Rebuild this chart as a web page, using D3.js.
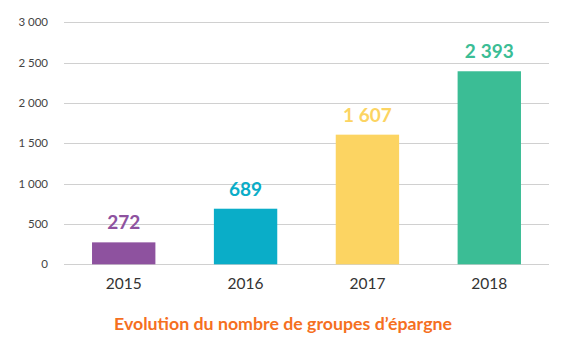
<!DOCTYPE html>
<html><head><meta charset="utf-8">
<script src="https://cdn.jsdelivr.net/npm/d3@7"></script>
<style>body{margin:0;background:#fff}svg{display:block}</style>
</head><body>
<svg id="c" width="564" height="357"></svg>
<script>
const years = ["2015","2016","2017","2018"];
const values = [272, 689, 1607, 2393];
const colors = ["#8e529f","#0aadc8","#fcd462","#3bbd95"];
const yTicks = [0,500,1000,1500,2000,2500,3000];
const title = "Evolution du nombre de groupes d\u2019épargne";

const svg = d3.select("#c");
const x = d3.scaleBand().domain(years).range([64, 549]).paddingInner(0.48).paddingOuter(0.23);
const y = d3.scaleLinear().domain([0, 3000]).range([264.3, 22.3]);
const fmt = v => d3.format(",")(v).replace(/,/g, "\u202f");

svg.append("g").selectAll("line").data(yTicks).join("line")
  .attr("x1", 64).attr("x2", 549)
  .attr("y1", d => Math.round(y(d)) + 0.5).attr("y2", d => Math.round(y(d)) + 0.5)
  .attr("stroke", "#d0d0d0").attr("stroke-width", 1);

svg.append("g").selectAll("text").data(yTicks).join("text")
  .attr("x", 48).attr("y", d => y(d)).attr("dy", "0.35em")
  .attr("text-anchor", "end").attr("font-family", "Lato").attr("font-size", 11.5)
  .attr("fill", "#444").text(d => fmt(d));

svg.append("g").selectAll("rect").data(values).join("rect")
  .attr("x", (d,i) => x(years[i])).attr("width", x.bandwidth())
  .attr("y", d => y(d)).attr("height", d => y(0) - y(d))
  .attr("fill", (d,i) => colors[i]);

svg.append("g").selectAll("text").data(values).join("text")
  .attr("x", (d,i) => x(years[i]) + x.bandwidth()/2).attr("y", d => y(d) - 13)
  .attr("text-anchor", "middle").attr("font-family", "Lato").attr("font-weight", "bold")
  .attr("font-size", 19).attr("fill", (d,i) => colors[i]).text(d => fmt(d));

svg.append("g").selectAll("text").data(years).join("text")
  .attr("x", d => x(d) + x.bandwidth()/2).attr("y", 289)
  .attr("text-anchor", "middle").attr("font-family", "Lato").attr("font-size", 15.5)
  .attr("fill", "#333").text(d => d);

svg.append("text").attr("x", 283).attr("y", 330).attr("text-anchor", "middle")
  .attr("font-family", "Lato").attr("font-weight", "bold").attr("font-size", 17)
  .attr("textLength", 338).attr("lengthAdjust", "spacingAndGlyphs")
  .attr("fill", "#f5701f").text(title);
</script>
</body></html>
